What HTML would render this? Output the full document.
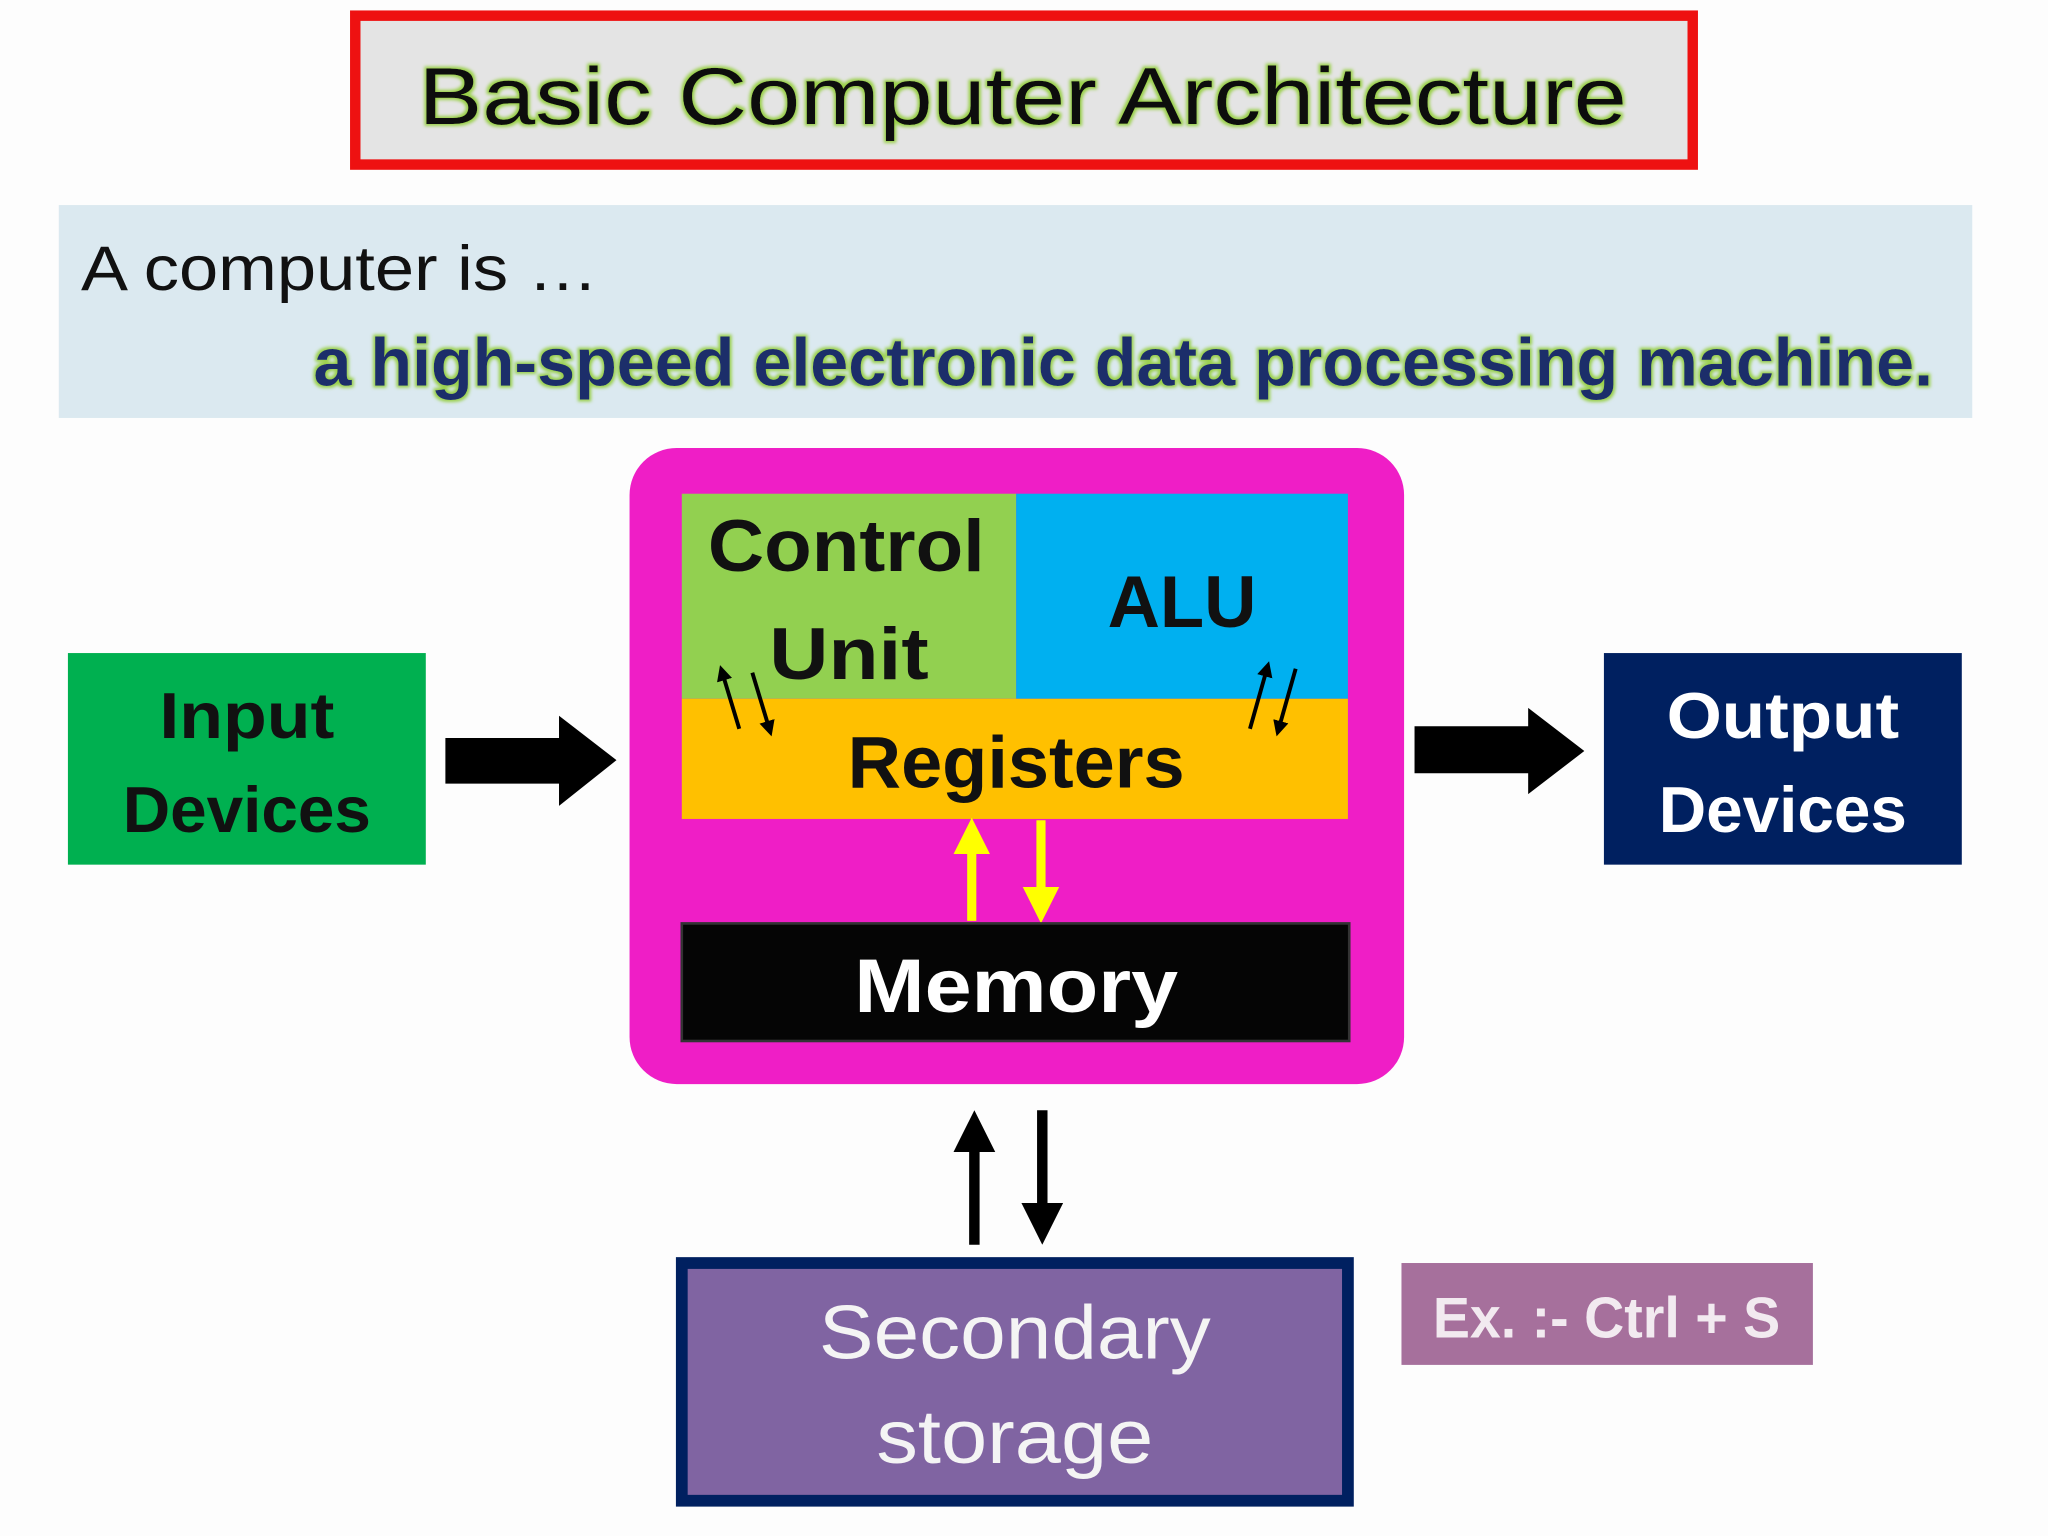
<!DOCTYPE html>
<html><head><meta charset="utf-8"><style>
html,body{margin:0;padding:0;background:#fff}
svg{display:block}
text{font-family:"Liberation Sans",sans-serif;font-weight:bold}
</style></head><body>
<svg width="2048" height="1536" viewBox="0 0 1568 1176" preserveAspectRatio="none" xmlns="http://www.w3.org/2000/svg">
<defs>
<marker id="ab" markerWidth="4" markerHeight="4" refX="2" refY="2" orient="auto" markerUnits="strokeWidth"><path d="M0,0 L4,2 L0,4z" fill="#000"/></marker>
<marker id="ay" markerWidth="4" markerHeight="4" refX="2" refY="2" orient="auto" markerUnits="strokeWidth"><path d="M0,0 L4,2 L0,4z" fill="#ffff00"/></marker>
<filter id="glow"><feMorphology operator="dilate" radius="1.5" in="SourceAlpha" result="d"/><feFlood flood-color="#9ad04a"/><feComposite in2="d" operator="in"/><feGaussianBlur stdDeviation="1.2"/><feMerge><feMergeNode/><feMergeNode in="SourceGraphic"/></feMerge></filter>
</defs>
<rect width="1568" height="1176" fill="#fdfdfd"/>
<!-- title -->
<rect x="272" y="12" width="1024" height="114" fill="#e4e4e4" stroke="#ee1111" stroke-width="8"/>
<text x="783" y="95" font-size="62" text-anchor="middle" fill="#111" textLength="925" lengthAdjust="spacingAndGlyphs" font-weight="normal" style="font-weight:normal" filter="url(#glow)">Basic Computer Architecture</text>
<!-- blue band -->
<rect x="45" y="157" width="1465" height="163" fill="#dbe9f0"/>
<text x="62" y="222" font-size="48" fill="#111" textLength="396" lengthAdjust="spacingAndGlyphs" style="font-weight:normal">A computer is …</text>
<text x="240" y="295" font-size="52" fill="#1f2f6a" textLength="1240" lengthAdjust="spacingAndGlyphs" filter="url(#glow)">a high-speed electronic data processing machine.</text>
<!-- CPU -->
<rect x="482" y="343" width="593" height="487" rx="36" fill="#ef1ec6"/>
<rect x="522" y="378" width="256" height="157" fill="#92d050"/>
<rect x="778" y="378" width="254" height="157" fill="#00b0f0"/>
<rect x="522" y="535" width="510" height="92" fill="#ffc000"/>
<text x="648" y="437" font-size="56" text-anchor="middle" fill="#111" textLength="212" lengthAdjust="spacingAndGlyphs">Control</text>
<text x="650" y="520" font-size="56" text-anchor="middle" fill="#111" textLength="122" lengthAdjust="spacingAndGlyphs">Unit</text>
<text x="905" y="480" font-size="56" text-anchor="middle" fill="#111" textLength="114" lengthAdjust="spacingAndGlyphs">ALU</text>
<text x="778" y="603" font-size="56" text-anchor="middle" fill="#111" textLength="258" lengthAdjust="spacingAndGlyphs">Registers</text>
<!-- small arrows -->
<line x1="566" y1="558" x2="553" y2="515" stroke="#000" stroke-width="3" marker-end="url(#ab)"/>
<line x1="576" y1="515" x2="589" y2="558" stroke="#000" stroke-width="3" marker-end="url(#ab)"/>
<line x1="957" y1="558" x2="970" y2="512" stroke="#000" stroke-width="3" marker-end="url(#ab)"/>
<line x1="992" y1="512" x2="979" y2="558" stroke="#000" stroke-width="3" marker-end="url(#ab)"/>
<!-- yellow arrows -->
<line x1="744" y1="705" x2="744" y2="640" stroke="#ffff00" stroke-width="7" marker-end="url(#ay)"/>
<line x1="797" y1="628" x2="797" y2="693" stroke="#ffff00" stroke-width="7" marker-end="url(#ay)"/>
<!-- memory -->
<rect x="522" y="707" width="511" height="90" fill="#050505" stroke="#333" stroke-width="2"/>
<text x="778" y="775" font-size="58" text-anchor="middle" fill="#fff" textLength="248" lengthAdjust="spacingAndGlyphs">Memory</text>
<!-- input -->
<rect x="52" y="500" width="274" height="162" fill="#00b050"/>
<text x="189" y="565" font-size="50" text-anchor="middle" fill="#111" textLength="134" lengthAdjust="spacingAndGlyphs">Input</text>
<text x="189" y="637" font-size="50" text-anchor="middle" fill="#111" textLength="190" lengthAdjust="spacingAndGlyphs">Devices</text>
<path d="M341,565 L428,565 L428,548 L472,582 L428,617 L428,600 L341,600z" fill="#000"/>
<!-- output -->
<path d="M1083,556 L1170,556 L1170,542 L1213,575 L1170,608 L1170,592 L1083,592z" fill="#000"/>
<rect x="1228" y="500" width="274" height="162" fill="#002060"/>
<text x="1365" y="565" font-size="50" text-anchor="middle" fill="#fff" textLength="178" lengthAdjust="spacingAndGlyphs">Output</text>
<text x="1365" y="637" font-size="50" text-anchor="middle" fill="#fff" textLength="190" lengthAdjust="spacingAndGlyphs">Devices</text>
<!-- black vertical arrows -->
<line x1="746" y1="953" x2="746" y2="866" stroke="#000" stroke-width="8" marker-end="url(#ab)"/>
<line x1="798" y1="850" x2="798" y2="937" stroke="#000" stroke-width="8" marker-end="url(#ab)"/>
<!-- secondary -->
<rect x="522" y="967" width="510" height="182" fill="#8064a2" stroke="#002060" stroke-width="9"/>
<text x="777" y="1040" font-size="58" text-anchor="middle" fill="#f4f4f4" textLength="300" lengthAdjust="spacingAndGlyphs" style="font-weight:normal">Secondary</text>
<text x="777" y="1120" font-size="58" text-anchor="middle" fill="#f4f4f4" textLength="212" lengthAdjust="spacingAndGlyphs" style="font-weight:normal">storage</text>
<!-- Ex -->
<rect x="1073" y="967" width="315" height="78" fill="#a6709c"/>
<text x="1230" y="1024" font-size="44" text-anchor="middle" fill="#f2eaf0" textLength="266" lengthAdjust="spacingAndGlyphs">Ex. :- Ctrl + S</text>
</svg>
</body></html>
